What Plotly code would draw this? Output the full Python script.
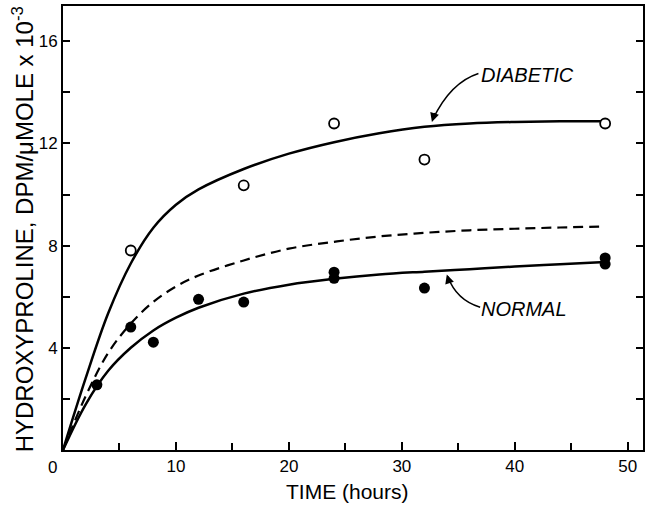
import plotly.graph_objects as go

# Data
diab_t = [6, 16, 24, 32, 48]
diab_v = [7.81, 10.36, 12.78, 11.37, 12.78]

norm_t = [3, 6, 8, 12, 16, 24, 24, 32, 48, 48]
norm_v = [2.55, 4.81, 4.22, 5.9, 5.79, 6.96, 6.72, 6.34, 7.52, 7.28]

curve_t = [0, 2, 4, 6, 8, 10, 12, 16, 20, 24, 28, 32, 36, 40, 44, 48]
diab_curve_v = [0, 2.8, 5.35, 7.3, 8.7, 9.6, 10.2, 11.0, 11.6, 12.05, 12.4, 12.65, 12.78, 12.84, 12.87, 12.87]
norm_curve_v = [0, 1.78, 3.1, 4.0, 4.68, 5.18, 5.57, 6.12, 6.47, 6.7, 6.87, 6.98, 7.08, 7.18, 7.27, 7.36]
dash_curve_v = [0, 2.1, 3.8, 4.95, 5.8, 6.4, 6.83, 7.42, 7.88, 8.15, 8.36, 8.5, 8.6, 8.66, 8.71, 8.75]

x_ticks = [10, 20, 30, 40, 50]
y_ticks = [4, 8, 12, 16]

FONT = "Liberation Sans"

fig = go.Figure()
fig.add_trace(go.Scatter(x=curve_t, y=diab_curve_v, mode="lines",
                         line=dict(color="black", width=2.5, shape="spline", smoothing=1)))
fig.add_trace(go.Scatter(x=curve_t, y=norm_curve_v, mode="lines",
                         line=dict(color="black", width=2.5, shape="spline", smoothing=1)))
fig.add_trace(go.Scatter(x=curve_t, y=dash_curve_v, mode="lines",
                         line=dict(color="black", width=2.2, dash="10px,6px", shape="spline", smoothing=1)))
fig.add_trace(go.Scatter(x=diab_t, y=diab_v, mode="markers",
                         marker=dict(symbol="circle", size=10, color="white",
                                     line=dict(color="black", width=1.8))))
fig.add_trace(go.Scatter(x=norm_t, y=norm_v, mode="markers",
                         marker=dict(symbol="circle", size=11, color="black",
                                     line=dict(color="black", width=0))))

# curved arrow for DIABETIC
fig.add_shape(type="path", xref="x", yref="y",
              path="M 36.78,14.74 Q 34.31,14.39 32.75,12.95",
              line=dict(color="black", width=1.5))
fig.add_annotation(x=32.66, y=12.84, ax=32.95, ay=13.25, xref="x", yref="y",
                   axref="x", ayref="y", text="", showarrow=True,
                   arrowhead=2, arrowsize=1.2, arrowwidth=1.5, arrowcolor="black")
fig.add_annotation(x=41.1, y=14.67, xref="x", yref="y", text="<i>DIABETIC</i>",
                   showarrow=False, font=dict(family=FONT, size=20, color="black"))

# curved arrow for NORMAL
fig.add_shape(type="path", xref="x", yref="y",
              path="M 36.93,5.59 Q 34.84,5.86 34.05,6.8",
              line=dict(color="black", width=1.5))
fig.add_annotation(x=33.98, y=6.87, ax=34.25, ay=6.5, xref="x", yref="y",
                   axref="x", ayref="y", text="", showarrow=True,
                   arrowhead=2, arrowsize=1.2, arrowwidth=1.5, arrowcolor="black")
fig.add_annotation(x=40.82, y=5.5, xref="x", yref="y", text="<i>NORMAL</i>",
                   showarrow=False, font=dict(family=FONT, size=20, color="black"))

# corner zero label
fig.add_annotation(x=0, y=0, xref="x", yref="paper", text="0", showarrow=False,
                   xanchor="center", yanchor="middle",
                   xshift=-11, yshift=-17, font=dict(family=FONT, size=17, color="black"))

# axis titles
fig.add_annotation(x=0.49, y=0, xref="paper", yref="paper", text="TIME (hours)",
                   showarrow=False, xanchor="center", yanchor="middle", yshift=-41,
                   font=dict(family=FONT, size=21, color="black"))
fig.add_annotation(x=0, y=0.497, xref="paper", yref="paper",
                   text="HYDROXYPROLINE, DPM/μMOLE x 10<sup>-3</sup>",
                   textangle=-90, showarrow=False, xanchor="center", yanchor="middle",
                   xshift=-40, font=dict(family=FONT, size=24, color="black"))

fig.update_xaxes(range=[0, 51.35], tickvals=x_ticks, ticks="inside", ticklen=8,
                 tickwidth=1.5, tickcolor="black", showline=True, linecolor="black",
                 linewidth=2, mirror=True, showgrid=False, zeroline=False,
                 tickfont=dict(family=FONT, size=17, color="black"),
                 minor=dict(dtick=5, tick0=0, ticks="inside", ticklen=7, tickwidth=1.5,
                            tickcolor="black", showgrid=False))
fig.update_yaxes(range=[0, 17.38], tickvals=y_ticks, ticks="inside", ticklen=7,
                 tickwidth=1.5, tickcolor="black", showline=True, linecolor="black",
                 linewidth=2, mirror="ticks", showgrid=False, zeroline=False,
                 tickfont=dict(family=FONT, size=17, color="black"),
                 minor=dict(dtick=2, tick0=0, ticks="inside", ticklen=7, tickwidth=1.5,
                            tickcolor="black", showgrid=False))

fig.update_layout(width=646, height=510, showlegend=False,
                  plot_bgcolor="white", paper_bgcolor="white",
                  margin=dict(l=63, r=1, t=6, b=60))

fig.write_html("out.html", config={"displayModeBar": False},
               post_script="document.body.style.margin='0';")
